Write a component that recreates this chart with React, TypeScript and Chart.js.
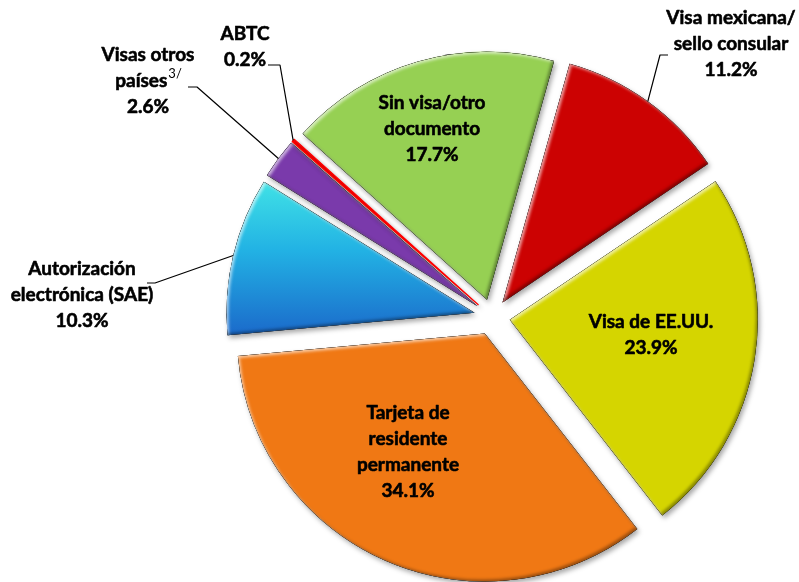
import { useEffect, useRef } from 'react';
import { Chart, registerables } from 'chart.js';

Chart.register(...registerables);

// ---- data ----
const categories = [
  'Visa mexicana/sello consular',
  'Visa de EE.UU.',
  'Tarjeta de residente permanente',
  'Autorización electrónica (SAE)',
  'Visas otros países',
  'ABTC',
  'Sin visa/otro documento',
];
const shares = [11.2, 23.9, 34.1, 10.3, 2.6, 0.2, 17.7];
const labelLines = [
  ['Visa mexicana/', 'sello consular'],
  ['Visa de EE.UU.'],
  ['Tarjeta de', 'residente', 'permanente'],
  ['Autorización', 'electrónica (SAE)'],
  ['Visas otros', 'países'],
  ['ABTC'],
  ['Sin visa/otro', 'documento'],
];
const superscripts = ['', '', '', '', '3/', '', ''];

// ---- styling / layout ----
const sliceColors = ['#CC0202', '#D5D500', '#F07814', '#22A8E0', '#7A3AAB', '#FF0000', '#96D053'];
const ROTATION = 15.7;
const EXPLODE = 18;
const RADIUS = 248;
const FONT = 'bold 19px Lato, "Open Sans", sans-serif';
const SUP_FONT = '13px Lato, "Open Sans", sans-serif';
const LINE_H = 26;

type LabelPos = { cx: number; y: number; elbow?: [number, number]; tick?: [number, number] };
const labelPos: LabelPos[] = [
  { cx: 731, y: 18, elbow: [660, 55], tick: [668, 55] },
  { cx: 651, y: 322 },
  { cx: 408, y: 413 },
  { cx: 82, y: 269, elbow: [155, 283], tick: [147, 283] },
  { cx: 148, y: 55, elbow: [197, 87], tick: [188, 87] },
  { cx: 245, y: 34, elbow: [280, 65], tick: [268, 65] },
  { cx: 432, y: 103 },
];

function arcGeom(arc: any) {
  const p = arc.getProps(['x', 'y', 'startAngle', 'endAngle', 'outerRadius'], true);
  const mid = (p.startAngle + p.endAngle) / 2;
  return { ...p, mid, dx: Math.cos(mid) * EXPLODE, dy: Math.sin(mid) * EXPLODE };
}

function boldText(ctx: CanvasRenderingContext2D, t: string, x: number, y: number) {
  ctx.fillText(t, x, y);
  ctx.strokeText(t, x, y);
}

const explodedPie = {
  id: 'explodedPie',
  beforeDatasetsDraw(chart: any) {
    const ctx: CanvasRenderingContext2D = chart.ctx;
    const meta = chart.getDatasetMeta(0);
    meta.data.forEach((arc: any, i: number) => {
      const g = arcGeom(arc);
      const path = () => {
        ctx.moveTo(g.x, g.y);
        ctx.arc(g.x, g.y, g.outerRadius, g.startAngle, g.endAngle);
        ctx.closePath();
      };
      ctx.save();
      ctx.translate(g.dx, g.dy);
      ctx.save();
      ctx.shadowColor = 'rgba(0,0,0,0.35)';
      ctx.shadowBlur = 5;
      ctx.shadowOffsetX = 2;
      ctx.shadowOffsetY = 3;
      arc.draw(ctx);
      ctx.restore();
      if (i !== 5) {
        const inner = (color: string, ox: number, oy: number, blur: number) => {
          ctx.save();
          ctx.beginPath();
          path();
          ctx.clip();
          ctx.beginPath();
          ctx.rect(g.x - 3000, g.y - 3000, 6000, 6000);
          path();
          ctx.shadowColor = color;
          ctx.shadowBlur = blur;
          ctx.shadowOffsetX = ox;
          ctx.shadowOffsetY = oy;
          ctx.fillStyle = '#000';
          ctx.fill('evenodd');
          ctx.restore();
        };
        inner('rgba(255,255,255,0.6)', 2, 2, 3);
        inner('rgba(0,0,0,0.35)', -2, -2, 3);
      }
      ctx.restore();
    });
    return false;
  },
  afterDraw(chart: any) {
    const ctx: CanvasRenderingContext2D = chart.ctx;
    const meta = chart.getDatasetMeta(0);
    ctx.save();
    ctx.fillStyle = '#000';
    ctx.strokeStyle = '#000';
    ctx.textBaseline = 'middle';
    ctx.lineJoin = 'round';
    meta.data.forEach((arc: any, i: number) => {
      const g = arcGeom(arc);
      const lp = labelPos[i];
      if (lp.elbow && lp.tick) {
        const ex = g.x + g.dx + Math.cos(g.mid) * g.outerRadius;
        const ey = g.y + g.dy + Math.sin(g.mid) * g.outerRadius;
        ctx.lineWidth = 1.2;
        ctx.beginPath();
        ctx.moveTo(ex, ey);
        ctx.lineTo(lp.elbow[0], lp.elbow[1]);
        ctx.lineTo(lp.tick[0], lp.tick[1]);
        ctx.stroke();
      }
      const lines = [...labelLines[i], shares[i].toFixed(1) + '%'];
      lines.forEach((t, k) => {
        const y = lp.y + k * LINE_H;
        ctx.font = FONT;
        ctx.lineWidth = 0.6;
        const sup = k === labelLines[i].length - 1 ? superscripts[i] : '';
        if (sup) {
          const w = ctx.measureText(t).width;
          ctx.font = SUP_FONT;
          const sw = ctx.measureText(sup).width;
          const x0 = lp.cx - (w + sw) / 2;
          ctx.textAlign = 'left';
          ctx.font = FONT;
          boldText(ctx, t, x0, y);
          ctx.font = SUP_FONT;
          ctx.fillText(sup, x0 + w + 1, y - 7);
        } else {
          ctx.textAlign = 'center';
          boldText(ctx, t, lp.cx, y);
        }
      });
    });
    ctx.restore();
  },
};

export default function App() {
  const ref = useRef<HTMLCanvasElement | null>(null);
  useEffect(() => {
    if (!ref.current) return;
    const chart = new Chart(ref.current, {
      type: 'pie',
      data: {
        labels: categories,
        datasets: [
          {
            data: shares,
            backgroundColor: (c: any) => {
              const i = c.dataIndex;
              if (i === 3) {
                const g = c.chart.ctx.createLinearGradient(0, 186, 0, 338);
                g.addColorStop(0, '#40E2E6');
                g.addColorStop(0.45, '#22B2E4');
                g.addColorStop(1, '#1B6BCB');
                return g;
              }
              return sliceColors[i];
            },
            borderColor: sliceColors,
            borderWidth: [0, 0, 0, 0, 0, 1.2, 0],
            offset: 0,
            hoverOffset: 0,
          },
        ],
      },
      options: {
        responsive: false,
        animation: false,
        events: [],
        rotation: ROTATION,
        radius: RADIUS,
        layout: { padding: { left: 185, right: 0, top: 52, bottom: 0 } },
        plugins: { legend: { display: false }, tooltip: { enabled: false } },
      } as any,
      plugins: [explodedPie],
    });
    return () => chart.destroy();
  }, []);
  return (
    <div style={{ position: 'absolute', left: 0, top: 0, width: 799, height: 582, background: '#fff' }}>
      <canvas ref={ref} width={799} height={582} />
    </div>
  );
}
